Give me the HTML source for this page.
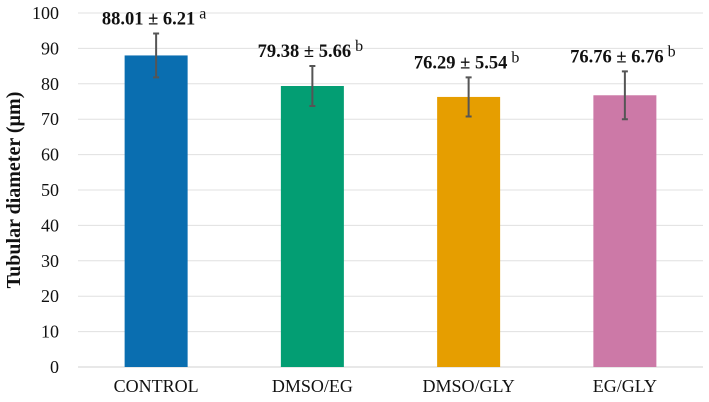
<!DOCTYPE html>
<html><head><meta charset="utf-8"><style>
body{margin:0;background:#fff;}
svg{display:block;font-family:"Liberation Serif",serif;}
</style></head><body>
<svg id="chart" width="709" height="402"></svg>
<script>
const categories=["CONTROL","DMSO/EG","DMSO/GLY","EG/GLY"];
const means=[88.01,79.38,76.29,76.76];
const sds=[6.21,5.66,5.54,6.76];
const letters=["a","b","b","b"];
const colors=["#0a6eb0","#039e73","#e69e00","#cc79a7"];
const yTicks=[0,10,20,30,40,50,60,70,80,90,100];
const NS="http://www.w3.org/2000/svg";
const svg=document.getElementById("chart");
const L=78,R=703,T=13,B=367;
const y=v=>B-(v/100)*(B-T);
const bw=(R-L)/categories.length;
const xc=i=>L+bw*(i+0.5);
function mk(t,a,txt){const e=document.createElementNS(NS,t);for(const k in a)e.setAttribute(k,a[k]);if(txt!==undefined)e.textContent=txt;svg.appendChild(e);return e;}
yTicks.forEach(v=>{
  const g=mk("line",{x1:L,x2:R,y1:y(v),y2:y(v),stroke:v===0?"#d0d0d0":"#e0e0e0","stroke-width":1});
  
  
  const t=mk("text",{x:59,y:y(v)+6,"text-anchor":"end","font-size":18,fill:"#111"},v);
  
  
});
const yt=mk("text",{x:0,y:0,transform:"translate(20,190) rotate(-90)","text-anchor":"middle","font-size":20,"font-weight":"bold",fill:"#111"},"Tubular diameter (µm)");


categories.forEach((c,i)=>{
  const cx=xc(i),w=63;
  const r=mk("rect",{x:cx-w/2,y:y(means[i]),width:w,height:B-y(means[i]),fill:colors[i]});
  
  
  const hi=y(means[i]+sds[i]),lo=y(means[i]-sds[i]);
  const eb=mk("path",{d:`M${cx},${hi}V${lo}M${cx-3},${hi}H${cx+3}M${cx-3},${lo}H${cx+3}`,stroke:"#555","stroke-width":2,fill:"none"});
  
  
  const lab=mk("text",{x:cx-2,y:hi-9,"text-anchor":"middle","font-size":18.5,"font-weight":"bold",fill:"#111"});
  
  
  const s1=document.createElementNS(NS,"tspan");s1.textContent=means[i].toFixed(2)+" ± "+sds[i].toFixed(2);lab.appendChild(s1);
  const s2=document.createElementNS(NS,"tspan");s2.setAttribute("font-weight","normal");s2.setAttribute("font-size","16");s2.setAttribute("dy","-6");s2.setAttribute("dx","4");s2.textContent=letters[i];lab.appendChild(s2);
  const xl=mk("text",{x:cx,y:392,"text-anchor":"middle","font-size":18,fill:"#111"},c);
  
  
});
</script>
</body></html>
